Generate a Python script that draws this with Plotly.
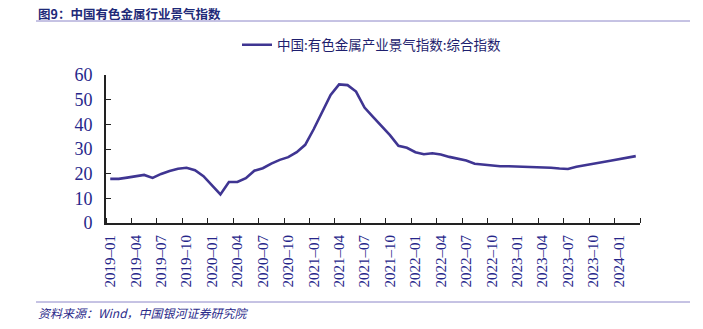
import plotly.graph_objects as go

# Monthly composite index of China's non-ferrous metals industry prosperity
months = [f"{y}-{m:02d}" for y in range(2019, 2025) for m in range(1, 13)][:63]
index_values = [
    17.9, 17.9, 18.4, 19.0, 19.5, 18.3, 19.9, 21.1, 22.0, 22.4, 21.4, 19.0,
    15.5, 11.6, 16.6, 16.6, 18.2, 21.2, 22.2, 24.1, 25.6, 26.7, 28.7, 31.7,
    38.0, 44.8, 51.9, 56.2, 55.9, 53.3, 46.8, 43.0, 39.3, 35.6, 31.3, 30.5,
    28.7, 27.9, 28.3, 27.8, 26.8, 26.0, 25.3, 24.0, 23.6, 23.2, 23.0, 23.0,
    22.9, 22.9, 22.8, 22.6, 22.4, 22.1, 21.9, 22.8, 23.3, 24.0, 24.6, 25.2,
    25.9, 26.4, 27.1,
]
series_name = "中国:有色金属产业景气指数:综合指数"
title_text = "图9：中国有色金属行业景气指数"
source_text = "资料来源：Wind，中国银河证券研究院"
y_ticks = [0, 10, 20, 30, 40, 50, 60]

W, H = 703, 329
L, R, T, B = 106, 63, 75, 106
pw, ph = W - L - R, H - T - B

def px_x(px):
    return (px - L) / pw

def px_y(py):
    return (H - B - py) / ph

NAVY = "#26268a"
LINE = "#3f3592"
RULE = "#8c86c8"
serif = "Liberation Serif, Times New Roman, serif"
cjk = "Noto Sans CJK SC, sans-serif"

idx = list(range(len(months)))
label_idx = idx[::3]
label_text = [months[i].replace("-", "–") for i in label_idx]
boundaries = [i - 0.5 for i in range(0, len(months) + 1, 3)] + [len(months) - 0.5]

fig = go.Figure()
fig.add_trace(go.Scatter(
    x=idx, y=index_values, mode="lines", name=series_name,
    line=dict(color=LINE, width=2.6),
))

fig.update_layout(
    width=W, height=H,
    margin=dict(l=L, r=R, t=T, b=B),
    paper_bgcolor="white", plot_bgcolor="white",
    showlegend=True,
    legend=dict(
        orientation="h", x=px_x(237), y=px_y(45), xanchor="left", yanchor="middle",
        font=dict(family=cjk, size=13.5, color="#1e1e6e"),
        bgcolor="rgba(0,0,0,0)",
    ),
    xaxis=dict(
        range=[-0.5, len(months) - 0.5],
        tickmode="array", tickvals=label_idx, ticktext=label_text,
        tickangle=-90, ticks="", showgrid=False, zeroline=False,
        showline=True, linecolor="#222222", linewidth=2,
        tickfont=dict(family=serif, size=15, color=NAVY),
        ticklabelstandoff=4,
        minor=dict(tickmode="array", tickvals=boundaries, ticks="inside",
                   ticklen=5, tickwidth=1.3, tickcolor="#222222", showgrid=False),
    ),
    yaxis=dict(
        range=[0, 60], tickmode="array", tickvals=y_ticks,
        ticks="inside", ticklen=5, tickwidth=1.3, tickcolor="#222222",
        showgrid=False, zeroline=False,
        showline=True, linecolor="#222222", linewidth=2,
        tickfont=dict(family=serif, size=18, color=NAVY),
        ticklabelstandoff=8,
    ),
)

fig.add_annotation(
    text=f"<b>{title_text}</b>", x=px_x(36), y=px_y(13), xref="paper", yref="paper",
    xanchor="left", yanchor="middle", showarrow=False,
    font=dict(family=cjk, size=12.5, color="#1e2a78"),
)
fig.add_annotation(
    text=source_text, x=px_x(36), y=px_y(312), xref="paper", yref="paper",
    xanchor="left", yanchor="middle", showarrow=False,
    font=dict(family=cjk, size=12, color="#2a2a8a", style="italic"),
)
for py in (21, 302):
    fig.add_shape(
        type="line", xref="paper", yref="paper",
        x0=px_x(36), x1=px_x(690), y0=px_y(py), y1=px_y(py),
        line=dict(color=RULE, width=1),
    )

fig.write_html("out.html")
